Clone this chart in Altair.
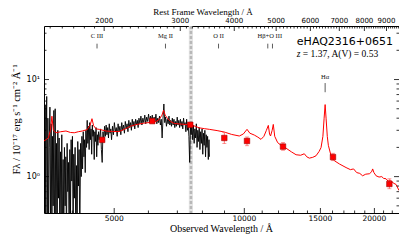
import altair as alt
import pandas as pd

Z = 1.37
XDOM = [3440, 22800]
YDOM = [0.422, 35.6]

# ---- optical spectrum (black) ----
spec_wave = [3442, 3452, 3462, 3472, 3481, 3490, 3499, 3512, 3524, 3536, 3550, 3562, 3574, 3588, 3600,
             3612, 3625, 3638, 3651, 3664, 3677, 3690, 3703, 3716, 3729, 3742, 3756, 3769, 3782, 3796,
             3809, 3823, 3836, 3850, 3864, 3877, 3891, 3905, 3919, 3933, 3947, 3961, 3975, 3989, 4003,
             4017, 4031, 4045, 4060, 4075, 4089, 4104, 4118, 4133, 4148, 4163,
             4180, 4195, 4210, 4225, 4240, 4255, 4270, 4285, 4300, 4315, 4330, 4345, 4360, 4375, 4390,
             4405, 4420, 4435, 4450, 4465, 4480, 4495, 4510, 4525, 4540, 4555, 4570, 4585, 4600, 4615,
             4630, 4650, 4670, 4690, 4710, 4730, 4750, 4770, 4790, 4810, 4830, 4850, 4870, 4890, 4910,
             4930, 4955, 4980, 5005, 5030, 5055, 5080, 5105, 5130, 5155, 5180, 5205, 5230, 5255, 5280,
             5305, 5330, 5355, 5380, 5405, 5430, 5455, 5480, 5505, 5530, 5555, 5580, 5605, 5630, 5655,
             5680, 5705, 5735, 5765, 5795, 5825, 5855, 5885, 5915, 5945, 5975, 6005, 6035, 6065, 6095,
             6125, 6155, 6185, 6215, 6245, 6275, 6305, 6335, 6365, 6395, 6425, 6455, 6485, 6515, 6545,
             6575, 6605, 6635, 6665, 6695, 6725, 6755, 6785, 6815, 6845, 6875, 6905, 6935, 6965, 6995,
             7025, 7055, 7085, 7115, 7145, 7175, 7205, 7235, 7265, 7295, 7325, 7355, 7385, 7415, 7445,
             7475, 7505, 7535, 7565, 7595, 7625, 7655, 7685, 7715, 7745, 7775, 7805, 7835, 7865, 7895,
             7925, 7955, 7985, 8015, 8045, 8075, 8105, 8135, 8165, 8195, 8225, 8255, 8285, 8305]
spec_flux = [2.3, 0.2, 5.5, 0.3, 3.0, 6.7, 0.2, 4.0, 0.25, 2.0, 5.2, 0.3, 3.5, 0.2, 2.6,
             0.5, 4.8, 0.2, 5.0, 0.3, 2.2, 0.2, 3.0, 0.6, 2.5, 0.2, 1.8, 0.4, 2.7, 0.2,
             1.5, 0.25, 2.0, 0.5, 1.6, 0.2, 2.2, 0.7, 1.4, 0.2, 1.9, 0.4, 2.4, 0.9, 2.6,
             0.2, 1.7, 0.6, 2.0, 0.2, 1.3, 0.25, 2.3, 0.8, 1.9, 0.2,
             2.2, 1.0, 2.6, 1.2, 2.9, 1.6, 2.4, 1.1, 3.0, 2.0, 3.8, 2.2, 3.3, 1.9, 3.6,
             2.4, 3.1, 1.7, 3.4, 2.6, 3.0, 1.5, 2.9, 2.3, 3.2, 1.6, 2.7, 2.1, 2.9, 2.4,
             2.6, 3.1, 1.9, 1.4, 2.9, 2.3, 3.3, 2.6, 3.4, 2.7, 3.2, 2.5, 3.5, 2.8, 3.1,
             2.4, 3.3, 2.7, 3.6, 2.9, 3.2, 2.6, 3.5, 2.9, 3.3, 2.7, 3.6, 3.0, 3.4, 2.8,
             3.7, 3.1, 3.5, 2.9, 3.8, 3.2, 3.6, 3.0, 3.9, 3.3, 3.7, 3.1, 3.9, 3.4, 3.8,
             3.2, 4.0, 3.5, 4.2, 3.4, 4.0, 3.6, 4.3, 3.5, 4.1, 3.7, 4.4, 3.6, 4.2, 3.8,
             4.3, 3.6, 4.1, 3.7, 4.4, 3.5, 4.0, 3.6, 4.2, 3.4, 3.9, 2.5, 4.0, 5.6, 3.6,
             4.1, 3.3, 3.9, 3.5, 4.2, 3.4, 3.8, 3.3, 4.0, 3.4, 3.9, 3.2, 3.7, 3.3, 4.1,
             3.4, 3.8, 3.2, 3.9, 3.3, 3.7, 3.1, 4.0, 3.4, 3.6, 2.9, 3.9, 3.0, 3.5, 2.6,
             1.4, 3.3, 2.7, 3.6, 2.4, 3.4, 2.2, 3.1, 2.5, 3.5, 2.0, 3.0, 2.3, 3.2, 1.9,
             2.9, 2.2, 3.1, 1.7, 2.8, 2.1, 3.0, 1.6, 2.7, 2.0, 2.6, 1.5, 2.4, 1.6]

# ---- model spectrum (red) ----
model_wave = [3440, 3520, 3560, 3588, 3615, 3666, 3760, 3867, 3960, 4042, 4130, 4217, 4330, 4400,
              4442, 4480, 4540, 4617, 4785, 4950, 5135, 5300, 5450, 5615, 5850, 6124, 6250, 6357,
              6450, 6505, 6560, 6635, 6750, 6887, 7100, 7300, 7511, 7700, 7867, 8080, 8299, 8650,
              8989, 9350, 9737, 9950, 10146, 10300, 10547, 10750, 10931, 11100, 11250, 11365, 11440,
              11500, 11600, 11670, 11760, 11944, 12200, 12496, 12850, 13176, 13500, 13767, 13950,
              14142, 14400, 14655, 14900, 15050, 15200, 15300, 15382, 15460, 15560, 15648, 15874,
              16155, 16600, 17196, 17600, 17900, 18200, 18500, 18783, 19100, 19470, 19700, 19815,
              19950, 20180, 20500, 20800, 21000, 21280, 21500, 21800, 22100, 22450, 22800]
model_flux = [2.33, 2.5, 3.0, 4.19, 3.0, 2.83, 2.9, 2.95, 2.85, 2.83, 2.9, 2.95, 3.05, 3.4,
              3.95, 3.35, 3.1, 3.07, 2.95, 2.92, 2.91, 3.1, 3.3, 3.43, 3.55, 3.64, 3.7, 3.9,
              4.3, 4.83, 4.3, 4.0, 3.7, 3.53, 3.48, 3.45, 3.43, 3.3, 3.18, 3.12, 3.07, 2.98,
              2.88, 2.72, 2.62, 2.75, 3.07, 2.8, 2.68, 2.55, 2.42, 2.6, 3.0, 3.37, 2.75,
              2.62, 3.0, 3.45, 2.6, 2.24, 2.08, 1.96, 1.8, 1.68, 1.66, 1.72, 1.6,
              1.55, 1.58, 1.64, 1.82, 1.99, 2.6, 4.0, 5.52, 4.0, 2.6, 2.1, 1.64,
              1.46, 1.35, 1.24, 1.18, 1.2, 1.1, 1.08, 1.02, 1.06, 1.07, 1.12, 1.2,
              1.1, 1.02, 0.99, 1.0, 0.96, 0.95, 0.9, 0.92, 0.86, 0.83, 0.72]

# ---- photometry (red squares) ----
phot_wave = [4690, 6124, 7499, 8990, 10145, 12290, 16040, 21660]
phot_flux = [2.39, 3.73, 3.42, 2.50, 2.33, 2.04, 1.59, 0.84]
phot_lo = [2.30, 3.60, 3.30, 2.19, 2.08, 1.87, 1.46, 0.75]
phot_hi = [2.48, 3.86, 3.55, 2.85, 2.56, 2.24, 1.74, 0.95]

# ---- telluric band ----
band_wave = [7440, 7610]
band_mid = [7525]

# ---- emission line labels ----
line_names = ["C III", "Mg II", "O II", "Hβ+O III", "Hα"]
line_text_wave = [4563, 6571, 8717, 11456, 15382]
line_text_flux = [28.1, 28.1, 28.1, 28.1, 10.5]
line_tick_wave = [4563, 6571, 8717, 11333, 11620, 15382]
line_tick_top = [23.4, 23.4, 23.4, 23.4, 23.4, 9.2]
line_tick_bot = [20.9, 20.9, 20.9, 20.9, 20.9, 7.4]

# ---- annotation ----
name_text = ["eHAQ2316+0651"]
info_text = ["= 1.37, A(V) = 0.53"]
annot_wave = [13230]
name_flux = [24.5]
info_flux = [18.4]

# ---- tick values and texts ----
bottom_major = [5000, 10000, 15000, 20000]
bottom_minor = [4000, 6000, 7000, 8000, 9000, 11000, 12000, 13000, 14000,
                16000, 17000, 18000, 19000, 21000, 22000]
top_major = [2000, 3000, 4000, 5000, 6000, 7000, 8000, 9000]
top_minor = [v for v in range(1500, 9700, 100) if v not in top_major]
y_major = [1, 10]
y_major_text = ["10⁰", "10¹"]
y_minor = [0.5, 0.6, 0.7, 0.8, 0.9, 2, 3, 4, 5, 6, 7, 8, 9, 20, 30]
x_title = "Observed Wavelength / Å"
top_title_text = "Rest Frame Wavelength / Å"
y_title = "Fλ / 10⁻¹⁷ erg s⁻¹ cm⁻² Å⁻¹"

W, H = 355, 187

spec = pd.DataFrame({"w": spec_wave, "f": spec_flux})
model = pd.DataFrame({"w": model_wave, "f": model_flux})
phot = pd.DataFrame({"w": phot_wave, "f": phot_flux, "lo": phot_lo, "hi": phot_hi})
band = pd.DataFrame({"w": [band_wave[0]], "w2": [band_wave[1]]})
bandmid = pd.DataFrame({"w": band_mid})
lab = pd.DataFrame({"w": line_text_wave, "f": line_text_flux, "t": line_names})
ltick = pd.DataFrame({"w": line_tick_wave, "a": line_tick_top, "b": line_tick_bot})
name_df = pd.DataFrame({"w": annot_wave, "f": name_flux, "t": name_text})
info_df = pd.DataFrame({"w": annot_wave, "f": info_flux, "t": info_text})
zdf = pd.DataFrame({"w": annot_wave, "f": info_flux, "t": ["z"]})
bmaj = pd.DataFrame({"w": bottom_major, "t": [str(v) for v in bottom_major]})
bmin = pd.DataFrame({"w": bottom_minor})
ymaj = pd.DataFrame({"f": y_major, "t": y_major_text})
ymin = pd.DataFrame({"f": y_minor})
# rest-frame ticks placed on the observed-frame scale
tmaj = pd.DataFrame({"w": [r * (1 + Z) for r in top_major], "t": [str(r) for r in top_major]})
tmin = pd.DataFrame({"w": [r * (1 + Z) for r in top_minor]})
titles = pd.DataFrame({"t": [x_title]})

xs = alt.Scale(type="log", domain=XDOM, nice=False)
ys = alt.Scale(type="log", domain=YDOM, nice=False)


def X(field="w"):
    return alt.X(f"{field}:Q", scale=xs, axis=None)


def Y(field="f"):
    return alt.Y(f"{field}:Q", scale=ys, axis=None)


band_rect = alt.Chart(band).mark_rect(color="#e4e4e4").encode(
    x=X(), x2="w2:Q", y=alt.value(0), y2=alt.value(H))
band_line = alt.Chart(bandmid).mark_rule(color="#b8b8b8", strokeWidth=2.5, strokeDash=[3, 2]).encode(
    x=X(), y=alt.value(0), y2=alt.value(H))

spec_line = alt.Chart(spec).mark_line(color="black", strokeWidth=0.9, clip=True).encode(
    x=X(), y=Y(), order="w:Q")
model_line = alt.Chart(model).mark_line(color="#ff0000", strokeWidth=1, clip=True).encode(
    x=X(), y=Y(), order="w:Q")
err = alt.Chart(phot).mark_rule(color="#ff5050", strokeWidth=0.8).encode(
    x=X(), y=Y("lo"), y2="hi:Q")
cap_lo = alt.Chart(phot).mark_tick(color="#ff5050", orient="horizontal", size=4, thickness=0.8).encode(
    x=X(), y=Y("lo"))
cap_hi = alt.Chart(phot).mark_tick(color="#ff5050", orient="horizontal", size=4, thickness=0.8).encode(
    x=X(), y=Y("hi"))
squares = alt.Chart(phot).mark_square(size=30, filled=True, color="#ff0000", stroke="#a00000",
                                       strokeWidth=0.6, opacity=1).encode(x=X(), y=Y())

labels = alt.Chart(lab).mark_text(font="Liberation Serif", fontSize=6.5, fill="#111111",
                                  baseline="middle").encode(x=X(), y=Y(), text="t:N")
lticks = alt.Chart(ltick).mark_rule(color="#333333", strokeWidth=0.8).encode(
    x=X(), y=Y("a"), y2="b:Q")
name = alt.Chart(name_df).mark_text(font="DejaVu Sans", fontSize=11, align="left",
                                    baseline="middle", fill="black").encode(x=X(), y=Y(), text="t:N")
zlab = alt.Chart(zdf).mark_text(font="Liberation Serif", fontSize=9.5, fontStyle="italic",
                                align="left", baseline="middle", fill="black").encode(
    x=X(), y=Y(), text="t:N")
info = alt.Chart(info_df).mark_text(font="Liberation Serif", fontSize=9.5, align="left",
                                    baseline="middle", dx=6, fill="black").encode(
    x=X(), y=Y(), text="t:N")

# inward ticks on all four sides
bt_maj = alt.Chart(bmaj).mark_rule(color="black", strokeWidth=0.8).encode(
    x=X(), y=alt.value(H), y2=alt.value(H - 5))
bt_min = alt.Chart(bmin).mark_rule(color="black", strokeWidth=0.8).encode(
    x=X(), y=alt.value(H), y2=alt.value(H - 2.5))
yl_maj = alt.Chart(ymaj).mark_rule(color="black", strokeWidth=0.8).encode(
    y=Y(), x=alt.value(0), x2=alt.value(5))
yl_min = alt.Chart(ymin).mark_rule(color="black", strokeWidth=0.8).encode(
    y=Y(), x=alt.value(0), x2=alt.value(2.5))
yr_maj = alt.Chart(ymaj).mark_rule(color="black", strokeWidth=0.8).encode(
    y=Y(), x=alt.value(W), x2=alt.value(W - 5))
yr_min = alt.Chart(ymin).mark_rule(color="black", strokeWidth=0.8).encode(
    y=Y(), x=alt.value(W), x2=alt.value(W - 2.5))
tt_maj = alt.Chart(tmaj).mark_rule(color="black", strokeWidth=0.8).encode(
    x=X(), y=alt.value(0), y2=alt.value(5))
tt_min = alt.Chart(tmin).mark_rule(color="black", strokeWidth=0.8).encode(
    x=X(), y=alt.value(0), y2=alt.value(2.5))

# tick labels and axis titles
bt_lab = alt.Chart(bmaj).mark_text(font="DejaVu Sans", fontSize=7.5, fill="black",
                                   baseline="middle").encode(x=X(), y=alt.value(H + 5.5), text="t:N")
tt_lab = alt.Chart(tmaj).mark_text(font="DejaVu Sans", fontSize=7, fill="black",
                                   baseline="middle").encode(x=X(), y=alt.value(-5), text="t:N")
yl_lab = alt.Chart(ymaj).mark_text(font="DejaVu Sans", fontSize=8, fill="black", align="right",
                                   baseline="middle").encode(y=Y(), x=alt.value(-4), text="t:N")
x_tit = alt.Chart(titles).mark_text(font="Liberation Serif", fontSize=10, fill="black",
                                    baseline="middle").encode(
    x=alt.value(W / 2), y=alt.value(H + 16), text=alt.value(x_title))
top_tit = alt.Chart(titles).mark_text(font="Liberation Serif", fontSize=9, fill="black",
                                      baseline="middle").encode(
    x=alt.value(159), y=alt.value(-14.5), text=alt.value(top_title_text))
y_tit = alt.Chart(titles).mark_text(font="Liberation Serif", fontSize=10.5, fill="black",
                                    baseline="middle", angle=270).encode(
    x=alt.value(-27.5), y=alt.value(H / 2), text=alt.value(y_title))

chart = alt.layer(band_rect, band_line, spec_line, model_line, err, cap_lo, cap_hi, squares,
                  labels, lticks, name, zlab, info, bt_maj, bt_min, yl_maj, yl_min, yr_maj, yr_min,
                  tt_maj, tt_min, bt_lab, tt_lab, yl_lab, x_tit, top_tit, y_tit).properties(
    width=W, height=H,
    autosize=alt.AutoSizeParams(type="none"),
    padding={"left": 36, "top": 18, "right": 0, "bottom": 21},
).configure_view(stroke="black", strokeWidth=1)

chart.save("out.html", embed_options={"renderer": "svg", "actions": False})
